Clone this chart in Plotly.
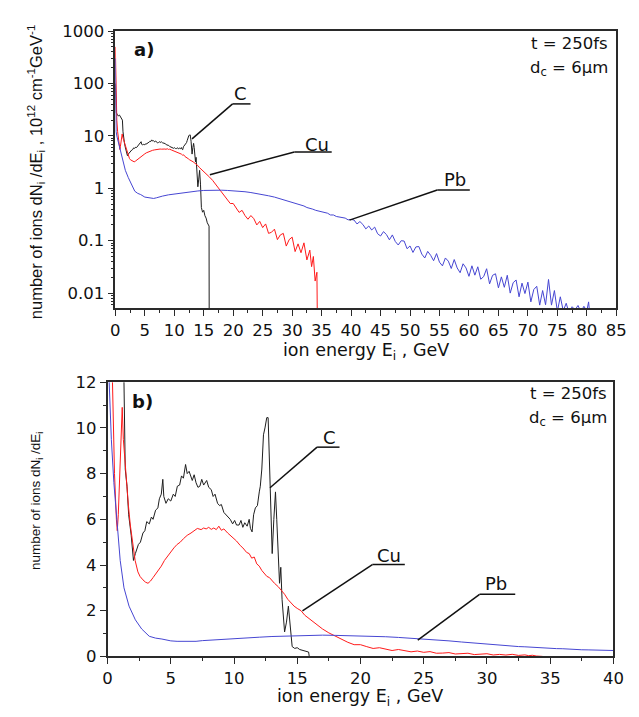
import plotly.graph_objects as go

# ---------------- data ----------------
c_energy = [0.0, 0.05, 0.15, 0.3, 0.5, 0.7, 0.9, 1.05, 1.2, 1.3, 1.4, 1.54, 1.67, 1.87, 2.05,
            2.2, 2.44, 2.6, 2.8, 2.95, 3.1, 3.3, 3.47, 3.6, 3.8, 3.98, 4.1, 4.25, 4.37, 4.45,
            4.62, 4.8, 5.0, 5.2, 5.35, 5.52, 5.7, 5.85, 6.0, 6.17, 6.3, 6.45, 6.55, 6.7, 6.85,
            7.0, 7.15, 7.3, 7.45, 7.6, 7.84, 8.0, 8.2, 8.35, 8.5, 8.7, 8.86, 9.0, 9.2, 9.38,
            9.55, 9.7, 9.89, 10.05, 10.2, 10.4, 10.55, 10.7, 10.85, 11.04, 11.2, 11.3, 11.43,
            11.55, 11.69, 11.85, 12.0, 12.08, 12.2, 12.33, 12.45, 12.59, 12.7, 12.85, 13.02,
            13.15, 13.28, 13.38, 13.49, 13.6, 13.7, 13.8, 14.0, 14.15, 14.3, 14.45, 14.6, 14.8,
            15.0, 15.2, 15.4, 15.6, 15.8, 15.9, 15.95]
c_value = [100, 35, 28, 26, 24, 25, 23, 22, 20, 12, 8.2, 7.45, 6.2, 5.3, 4.2,
           4.5, 4.9, 5.0, 5.4, 5.5, 5.9, 5.8, 6.1, 6.0, 6.4, 6.5, 6.9, 7.1, 7.75, 7.0,
           6.7, 6.9, 6.8, 7.1, 7.0, 7.45, 7.5, 7.9, 7.8, 8.4, 8.0, 8.1, 7.9, 7.7, 7.95,
           7.6, 7.4, 7.45, 7.75, 7.5, 7.7, 7.4, 7.3, 7.0, 7.1, 6.7, 6.6, 6.65, 6.3, 6.2,
           6.1, 6.0, 5.8, 5.95, 5.75, 5.75, 5.95, 5.65, 5.85, 5.7, 6.0, 5.6, 5.45,
           6.2, 6.5, 6.6, 7.2, 7.45, 8.2, 9.7, 10.0, 10.45, 10.45, 7.9, 4.5,
           6.0, 7.2, 6.0, 4.2, 3.2, 3.9, 2.5, 1.07, 1.5, 2.2, 1.2, 0.43, 0.35,
           0.38, 0.3, 0.27, 0.22, 0.2, 0.19, 0.0001]

cu_energy = [0.0, 0.1, 0.25, 0.39, 0.55, 0.7, 0.77, 0.85, 1.0, 1.1, 1.16, 1.25, 1.36, 1.45,
             1.54, 1.65, 1.8, 2.0, 2.18, 2.4, 2.57, 2.8, 3.0, 3.2, 3.4, 3.6, 3.8, 4.0, 4.25,
             4.5, 4.75, 5.0, 5.25, 5.5, 5.75, 6.0, 6.3, 6.6, 6.9, 7.1, 7.4, 7.6, 7.8, 8.0,
             8.2, 8.4, 8.6, 8.8, 9.0, 9.2, 9.5, 9.9, 10.2, 10.5, 10.7, 11.0, 11.2, 11.4,
             11.6, 11.8, 12.0, 12.2, 12.4, 12.6, 12.8, 13.0, 13.2, 13.5, 13.75, 14.0, 14.25,
             14.5, 14.75, 15.0, 15.3, 15.6, 16.0, 16.5, 17.0, 17.5, 18.0, 18.5, 19.0, 19.5,
             20.0, 20.5, 21.0, 21.5, 22.0, 22.5, 23.0, 23.5, 24.0, 24.5, 25.0, 25.5, 26.0,
             26.5, 27.0, 27.5, 28.0, 28.5, 29.0, 29.5, 30.0, 30.5, 31.0, 31.5, 32.0, 32.5,
             33.0, 33.3, 33.6, 33.9, 34.2, 34.4]
cu_value = [500, 60, 20, 12, 8.0, 6.0, 5.5, 6.2, 8.5, 10.3, 10.9, 9.5, 8.6, 8.2,
            7.45, 6.6, 5.75, 4.8, 4.2, 3.7, 3.5, 3.35, 3.25, 3.2, 3.3, 3.45, 3.6, 3.76, 3.95,
            4.2, 4.4, 4.55, 4.75, 4.9, 5.0, 5.15, 5.3, 5.4, 5.52, 5.6, 5.55, 5.62, 5.58, 5.65,
            5.56, 5.62, 5.55, 5.7, 5.52, 5.58, 5.4, 5.2, 5.05, 4.85, 4.75, 4.55, 4.5, 4.3,
            4.35, 4.05, 3.95, 3.76, 3.65, 3.5, 3.45, 3.3, 3.2, 3.05, 2.9, 2.72, 2.5,
            2.35, 2.2, 2.1, 2.0, 1.8, 1.63, 1.42, 1.2, 1.03, 0.88, 0.74, 0.617, 0.513,
            0.513, 0.427, 0.347, 0.38, 0.302, 0.257, 0.302, 0.263, 0.2, 0.234, 0.178, 0.209, 0.138,
            0.145, 0.166, 0.105, 0.129, 0.138, 0.079, 0.105, 0.117, 0.062, 0.087, 0.059, 0.091, 0.043,
            0.066, 0.032, 0.05, 0.017, 0.025, 0.0001]

pb_energy = [0.0, 0.05, 0.13, 0.3, 0.5, 0.77, 1.0, 1.3, 1.7, 2.2, 2.7, 3.3, 3.8, 4.3, 5.0,
             5.5, 6.0, 6.5, 7.0, 7.5, 8.0, 9.0, 10.0, 11.0, 12.0, 13.0, 14.0, 15.0, 16.0,
             17.0, 18.0, 19.0, 20.0, 21.0, 22.0, 23.0, 24.0, 25.0, 26.0, 27.0, 28.0, 29.0,
             30.0, 30.5, 31.0, 31.5, 32.0, 32.5, 33.0, 33.5, 34.0, 34.5, 35.0, 35.5, 36.0,
             36.5, 37.0, 37.5, 38.0, 38.5, 39.0, 39.5, 40.0, 40.5, 41.0, 41.5, 42.0, 42.5,
             43.0, 43.5, 44.0, 44.5, 45.0, 45.5, 46.0, 46.5, 47.0, 47.5, 48.0, 48.5, 49.0,
             49.5, 50.0, 50.5, 51.0, 51.5, 52.0, 52.5, 53.0, 53.5, 54.0, 54.5, 55.0, 55.5,
             56.0, 56.5, 57.0, 57.5, 58.0, 58.5, 59.0, 59.5, 60.0, 60.5, 61.0, 61.5, 62.0,
             62.5, 63.0, 63.5, 64.0, 64.5, 65.0, 65.5, 66.0, 66.5, 67.0, 67.5, 68.0, 68.5,
             69.0, 69.5, 70.0, 70.5, 71.0, 71.5, 72.0, 72.5, 73.0, 73.5, 74.0, 74.5, 75.0,
             75.5, 76.0, 76.5, 77.0, 77.5, 78.0, 78.5, 79.0, 79.5, 80.0, 80.3, 80.6]
pb_value = [300, 60, 12, 9.5, 7.6, 5.6, 4.2, 3.0, 2.2, 1.6, 1.2, 0.88, 0.8, 0.76, 0.68,
            0.66, 0.65, 0.64, 0.66, 0.69, 0.71, 0.75, 0.78, 0.81, 0.84, 0.87, 0.89, 0.91, 0.92,
            0.93, 0.92, 0.91, 0.9, 0.88, 0.86, 0.83, 0.8, 0.76, 0.72, 0.68, 0.63, 0.58,
            0.54, 0.51, 0.5, 0.47, 0.46, 0.43, 0.42, 0.4, 0.38, 0.37, 0.35, 0.34, 0.335,
            0.31, 0.31, 0.29, 0.285, 0.275, 0.27, 0.25, 0.255, 0.248, 0.209, 0.232, 0.204, 0.168,
            0.191, 0.16, 0.182, 0.136, 0.123, 0.149, 0.131, 0.104, 0.129, 0.0966, 0.0828, 0.1, 0.0986,
            0.0703, 0.0794, 0.0597, 0.0762, 0.0773, 0.0555, 0.0468, 0.0625, 0.0527, 0.0415, 0.0568, 0.0389, 0.0331,
            0.0468, 0.0407, 0.0295, 0.0437, 0.0302, 0.0245, 0.0363, 0.0302, 0.0209, 0.0332, 0.022, 0.0318, 0.0184,
            0.0207, 0.0292, 0.015, 0.0218, 0.0234, 0.0126, 0.0204, 0.0129, 0.0219, 0.01, 0.0158, 0.0178, 0.0085,
            0.0155, 0.0098, 0.0162, 0.0068, 0.0117, 0.0135, 0.0059, 0.0112, 0.006, 0.0182, 0.0059, 0.0112, 0.0045,
            0.0085, 0.0046, 0.0064, 0.0041, 0.0055, 0.0048, 0.0058, 0.0044, 0.0056, 0.0046, 0.0068, 0.003]

log_tick_values = [0.01, 0.1, 1, 10, 100, 1000]
log_tick_labels = ["0.01", "0.1", "1", "10", "100", "1000"]
log_minor_values = [0.006, 0.007, 0.008, 0.009,
                    0.02, 0.03, 0.04, 0.05, 0.06, 0.07, 0.08, 0.09,
                    0.2, 0.3, 0.4, 0.5, 0.6, 0.7, 0.8, 0.9,
                    2, 3, 4, 5, 6, 7, 8, 9,
                    20, 30, 40, 50, 60, 70, 80, 90,
                    200, 300, 400, 500, 600, 700, 800, 900]

# ---------------- styling ----------------
OFF = 8                      # the page body margin shifts the figure by 8 px
W, H = 639, 717
FW, FH = W - OFF, H - OFF
C_COLOR = "#1e1e1e"
CU_COLOR = "#ff1a1a"
PB_COLOR = "#4646d2"
AXIS_COLOR = "#2a2a2a"
TICK_FONT = dict(family="DejaVu Sans", size=16.5, color="#111111")
TXT_FONT = "DejaVu Sans"


def px(x):
    return (x - OFF) / FW


def py(y):
    return 1 - (y - OFF) / FH


fig = go.Figure()
series = [(c_energy, c_value, C_COLOR, "C"),
          (cu_energy, cu_value, CU_COLOR, "Cu"),
          (pb_energy, pb_value, PB_COLOR, "Pb")]
for (e, v, col, nm) in series:
    fig.add_trace(go.Scatter(x=e, y=v, mode="lines", name=nm,
                             line=dict(color=col, width=1), xaxis="x", yaxis="y"))
for (e, v, col, nm) in series:
    fig.add_trace(go.Scatter(x=e, y=v, mode="lines", name=nm,
                             line=dict(color=col, width=1), xaxis="x2", yaxis="y2"))

axis_common = dict(showline=True, mirror=True, linecolor=AXIS_COLOR, linewidth=1.5,
                   showgrid=False, zeroline=False, ticks="outside", ticklen=6,
                   tickwidth=1.2, tickcolor=AXIS_COLOR, tickfont=TICK_FONT,
                   ticklabeloverflow="allow")

fig.update_layout(
    width=FW, height=FH,
    margin=dict(l=0, r=0, t=0, b=0),
    paper_bgcolor="white", plot_bgcolor="white",
    showlegend=False,
    xaxis=dict(domain=[px(113), px(627)], range=[0, 85], tick0=0, dtick=5, anchor="y",
               minor=dict(ticks="outside", ticklen=3, dtick=2.5, tickcolor=AXIS_COLOR),
               **axis_common),
    yaxis=dict(domain=[py(307), py(22.5)], type="log", range=[-2.284, 3], anchor="x",
               tickvals=log_tick_values, ticktext=log_tick_labels,
               minor=dict(ticks="outside", ticklen=3, tickvals=log_minor_values,
                          tickcolor=AXIS_COLOR),
               **axis_common),
    xaxis2=dict(domain=[px(105), px(624)], range=[0, 40], tick0=0, dtick=5, anchor="y2",
                minor=dict(ticks="outside", ticklen=3, dtick=2.5, tickcolor=AXIS_COLOR),
                **axis_common),
    yaxis2=dict(domain=[py(665), py(383.3)], range=[0, 12], tick0=0, dtick=2, anchor="x2",
                minor=dict(ticks="outside", ticklen=3, dtick=1, tickcolor=AXIS_COLOR),
                **axis_common),
)

annotations = []


def text(x, y, s, size, xanchor="center", yanchor="middle", bold=False, angle=0,
         family=TXT_FONT):
    annotations.append(dict(x=px(x), y=py(y), xref="paper", yref="paper", text=s,
                            showarrow=False, xanchor=xanchor, yanchor=yanchor,
                            textangle=angle,
                            font=dict(family=family, size=size, color="#111111",
                                      weight="bold" if bold else "normal")))


# axis titles
text(370, 352, "ion energy E<sub>i</sub> , GeV", 17.5)
text(364.5, 707, "ion energy E<sub>i</sub> , GeV", 17.5)
text(31, 167, "number of ions dN<sub>i</sub> /dE<sub>i</sub> , 10<sup>12</sup> cm<sup>-1</sup>GeV<sup>-1</sup>",
     16.5, angle=-90, family="Liberation Sans")
text(32, 505, "number of ions dN<sub>i</sub> /dE<sub>i</sub>", 13.5, angle=-90,
     family="Liberation Sans")

# panel labels and parameters
text(142, 41, "a)", 18, bold=True)
text(141, 403, "b)", 18, bold=True)
text(621, 35, "t = 250fs", 16.5, xanchor="right")
text(621, 61, "d<sub>c</sub> = 6μm", 16.5, xanchor="right")
text(619, 395, "t = 250fs", 16.5, xanchor="right")
text(619, 421, "d<sub>c</sub> = 6μm", 16.5, xanchor="right")

# species labels
text(241, 87, "C", 18)
text(320, 139, "Cu", 18)
text(461, 175, "Pb", 18)
text(333, 440, "C", 18)
text(394, 561, "Cu", 18)
text(504, 590, "Pb", 18)

fig.update_layout(annotations=annotations)

# leader lines
leaders = [
    [(191.7, 133.3), (233.3, 97.3), (251.7, 97.3)],
    [(210, 170), (296.7, 146.7), (335, 146.7)],
    [(353.3, 216.7), (443.3, 185.7), (476.7, 185.7)],
    [(271.7, 491.7), (320, 450), (343, 450)],
    [(305, 618.3), (376.7, 570.7), (410, 570.7)],
    [(423.3, 648.3), (486.7, 601.2), (523.3, 601.2)],
]
shapes = []
for pts in leaders:
    for (a, b) in zip(pts[:-1], pts[1:]):
        shapes.append(dict(type="line", xref="paper", yref="paper",
                           x0=px(a[0]), y0=py(a[1]), x1=px(b[0]), y1=py(b[1]),
                           line=dict(color="#111111", width=1.5)))
fig.update_layout(shapes=shapes)

fig.write_html("out.html")
